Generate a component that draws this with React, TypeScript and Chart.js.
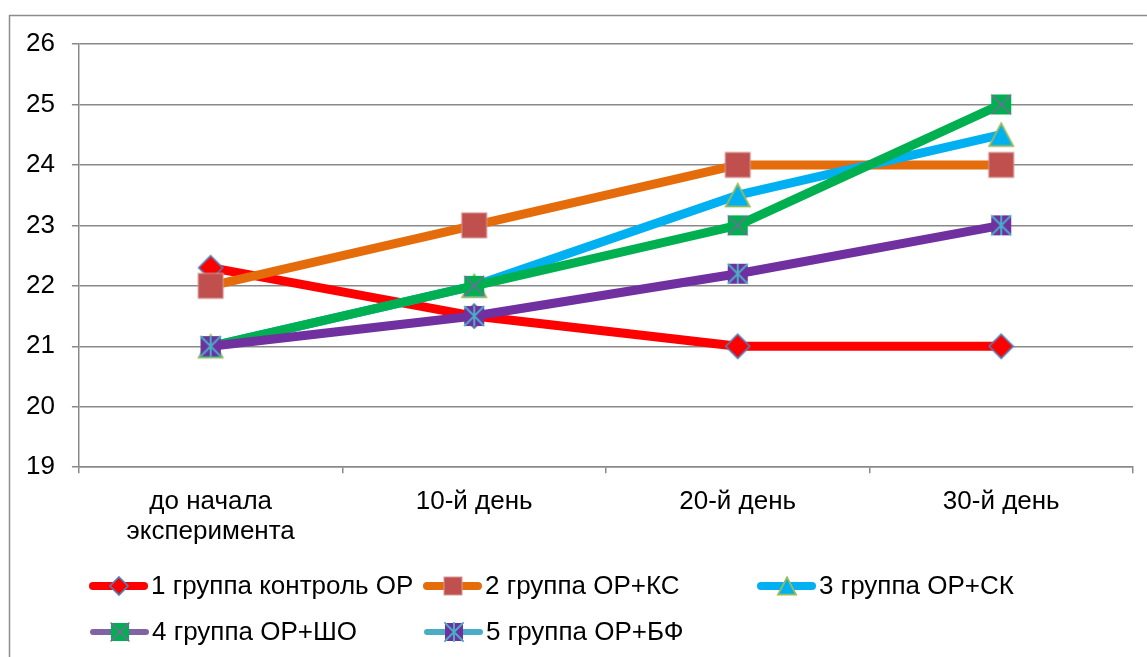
import React, { useEffect, useRef } from 'react';
import { Chart, registerables } from 'chart.js';

Chart.register(...registerables);

const categories: (string | string[])[] = [['до начала', 'эксперимента'], '10-й день', '20-й день', '30-й день'];
const group1 = [22.3, 21.5, 21, 21];
const group2 = [22, 23, 24, 24];
const group3 = [21, 22, 23.5, 24.5];
const group4 = [21, 22, 23, 25];
const group5 = [21, 21.5, 22.2, 23];
const seriesNames = ['1 группа контроль ОР', '2 группа ОР+КС', '3 группа ОР+СК', '4 группа ОР+ШО', '5 группа ОР+БФ'];
const yMin = 19;
const yMax = 26;
const yStep = 1;

type MarkerKind = 'diamond' | 'square' | 'triangle' | 'squareX' | 'squareStar';

const FONT = '"Liberation Sans", Arial, sans-serif';
const FONT_SIZE = 26;
const GRID = '#898989';

// size = outer width of the marker in px
function drawMarker(ctx: CanvasRenderingContext2D, kind: MarkerKind, cx: number, cy: number, size: number) {
  ctx.save();
  ctx.lineJoin = 'miter';
  if (kind === 'diamond') {
    const h = size / 2;
    ctx.beginPath();
    ctx.moveTo(cx, cy - h);
    ctx.lineTo(cx + h, cy);
    ctx.lineTo(cx, cy + h);
    ctx.lineTo(cx - h, cy);
    ctx.closePath();
    ctx.fillStyle = '#FF0000';
    ctx.fill();
    ctx.strokeStyle = '#4F81BD';
    ctx.lineWidth = 1.6;
    ctx.stroke();
  } else if (kind === 'square') {
    const a = size;
    ctx.fillStyle = '#C0504D';
    ctx.fillRect(cx - a / 2, cy - a / 2, a, a);
    ctx.strokeStyle = '#D49A98';
    ctx.lineWidth = 1;
    ctx.strokeRect(cx - a / 2, cy - a / 2, a, a);
  } else if (kind === 'triangle') {
    const w = size;
    const h = size * 0.95;
    ctx.beginPath();
    ctx.moveTo(cx, cy - h / 2);
    ctx.lineTo(cx + w / 2, cy + h / 2);
    ctx.lineTo(cx - w / 2, cy + h / 2);
    ctx.closePath();
    ctx.fillStyle = '#00B0F0';
    ctx.fill();
    ctx.strokeStyle = '#9BBB59';
    ctx.lineWidth = 1.8;
    ctx.stroke();
  } else if (kind === 'squareX' || kind === 'squareStar') {
    const a = size;
    const l = cx - a / 2;
    const t = cy - a / 2;
    ctx.fillStyle = kind === 'squareX' ? '#00B050' : '#7030A0';
    ctx.fillRect(l, t, a, a);
    ctx.strokeStyle = kind === 'squareX' ? '#8064A2' : '#4BACC6';
    ctx.lineWidth = kind === 'squareX' ? 1.5 : 2;
    ctx.beginPath();
    ctx.moveTo(l, t);
    ctx.lineTo(l + a, t + a);
    ctx.moveTo(l + a, t);
    ctx.lineTo(l, t + a);
    if (kind === 'squareStar') {
      ctx.moveTo(cx, t);
      ctx.lineTo(cx, t + a);
    }
    ctx.stroke();
  }
  ctx.restore();
}

function makeMarkerImage(kind: MarkerKind, size: number): HTMLCanvasElement {
  const dim = Math.ceil(size + 6);
  const c = document.createElement('canvas');
  c.width = dim;
  c.height = dim;
  const ctx = c.getContext('2d')!;
  drawMarker(ctx, kind, dim / 2, dim / 2, size);
  return c;
}

const seriesStyles = [
  { color: '#FF0000', marker: 'diamond' as MarkerKind, markerSize: 24, legendLine: '#FF0000', legendWidth: 8 },
  { color: '#E46C0A', marker: 'square' as MarkerKind, markerSize: 25, legendLine: '#E46C0A', legendWidth: 8 },
  { color: '#00B0F0', marker: 'triangle' as MarkerKind, markerSize: 24, legendLine: '#00B0F0', legendWidth: 8 },
  { color: '#00B050', marker: 'squareX' as MarkerKind, markerSize: 20, legendLine: '#8064A2', legendWidth: 6 },
  { color: '#7030A0', marker: 'squareStar' as MarkerKind, markerSize: 20, legendLine: '#4BACC6', legendWidth: 6 },
];

const legendSlots = [
  { x: 89, y: 586 },
  { x: 423, y: 586 },
  { x: 757, y: 586 },
  { x: 90, y: 632 },
  { x: 424, y: 632 },
];

const frameAndLegend = {
  id: 'frameAndLegend',
  beforeDraw(chart: any) {
    const ctx = chart.ctx as CanvasRenderingContext2D;
    ctx.save();
    ctx.fillStyle = '#FFFFFF';
    ctx.fillRect(0, 0, chart.width, chart.height);
    ctx.strokeStyle = '#8C8C8C';
    ctx.lineWidth = 1.5;
    ctx.strokeRect(9.5, 15.5, chart.width + 20, chart.height + 20);
    ctx.restore();
  },
  afterDraw(chart: any) {
    const ctx = chart.ctx as CanvasRenderingContext2D;
    ctx.save();
    seriesNames.forEach((name, i) => {
      const st = seriesStyles[i];
      const slot = legendSlots[i];
      ctx.strokeStyle = st.legendLine;
      ctx.lineWidth = st.legendWidth;
      ctx.lineCap = 'round';
      ctx.beginPath();
      ctx.moveTo(slot.x + st.legendWidth / 2, slot.y);
      ctx.lineTo(slot.x + 59 - st.legendWidth / 2, slot.y);
      ctx.stroke();
      drawMarker(ctx, st.marker, slot.x + 30, slot.y, 18);
      ctx.fillStyle = '#000000';
      ctx.font = `${FONT_SIZE}px ${FONT}`;
      ctx.textBaseline = 'middle';
      ctx.textAlign = 'left';
      ctx.fillText(name, slot.x + 62, slot.y + 1);
    });
    ctx.restore();
  },
};

export default function App() {
  const ref = useRef<HTMLCanvasElement>(null);
  useEffect(() => {
    if (!ref.current) return;
    const allData = [group1, group2, group3, group4, group5];
    const chart = new Chart(ref.current, {
      type: 'line',
      data: {
        labels: categories as any,
        datasets: allData.map((d, i) => ({
          label: seriesNames[i],
          data: d,
          borderColor: seriesStyles[i].color,
          backgroundColor: seriesStyles[i].color,
          borderWidth: 9,
          pointStyle: makeMarkerImage(seriesStyles[i].marker, seriesStyles[i].markerSize) as any,
          pointRadius: 12,
          pointHoverRadius: 12,
          tension: 0,
          fill: false,
          clip: false as any,
          order: 4 - i,
          borderCapStyle: 'round' as const,
          borderJoinStyle: 'round' as const,
        })),
      },
      plugins: [frameAndLegend],
      options: {
        responsive: false,
        animation: false,
        events: [],
        layout: { autoPadding: false, padding: { left: 9, top: 44, right: 14, bottom: 96 } },
        plugins: {
          legend: { display: false },
          tooltip: { enabled: false },
          title: { display: false },
        },
        scales: {
          x: {
            type: 'category',
            offset: true,
            grid: {
              offset: true,
              drawOnChartArea: false,
              drawTicks: true,
              tickLength: 6,
              color: GRID,
              lineWidth: 1.5,
            },
            border: { display: true, color: GRID, width: 1.5 },
            ticks: {
              color: '#000000',
              font: { family: FONT, size: FONT_SIZE, lineHeight: 1.15 },
              padding: 14,
              maxRotation: 0,
              autoSkip: false,
            },
          },
          y: {
            min: yMin,
            max: yMax,
            grid: {
              color: GRID,
              lineWidth: 1.5,
              drawTicks: true,
              tickLength: 7,
            },
            border: { display: true, color: GRID, width: 1.5 },
            ticks: {
              stepSize: yStep,
              color: '#000000',
              font: { family: FONT, size: FONT_SIZE },
              padding: 17,
            },
          },
        },
      },
    });
    return () => chart.destroy();
  }, []);
  return (
    <div style={{ position: 'absolute', left: 0, top: 0, width: 1147, height: 657, overflow: 'hidden' }}>
      <canvas ref={ref} width={1147} height={657} style={{ display: 'block', width: 1147, height: 657 }} />
    </div>
  );
}
